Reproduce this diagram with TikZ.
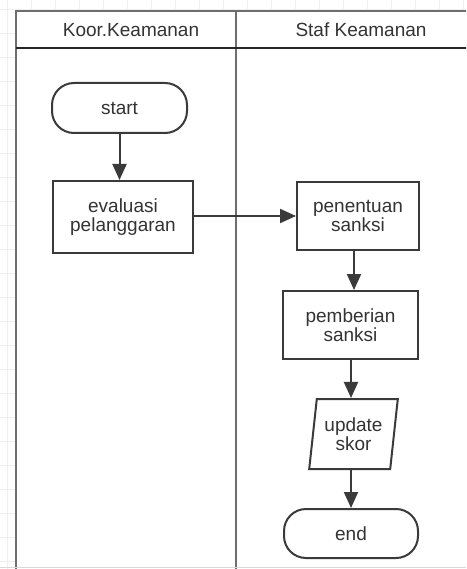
\documentclass[tikz,border=0pt]{standalone}
\usepackage{fontspec}
\setmainfont{Liberation Sans}
\usetikzlibrary{arrows.meta,shapes.geometric}
\definecolor{ink}{HTML}{3A3A3A}
\definecolor{txt}{HTML}{333333}
\definecolor{lane}{HTML}{6E6E6E}
\definecolor{gridc}{HTML}{EFEFEF}
\begin{document}
\begin{tikzpicture}[x=1pt,y=-1pt,
  every node/.style={font=\fontsize{19}{18.5}\selectfont, text=txt, align=center},
  box/.style={draw=ink, line width=2pt, fill=white, inner sep=0pt},
  term/.style={box, rounded corners=22pt},
  proc/.style={box},
  io/.style={box, trapezium, trapezium left angle=79.5, trapezium right angle=100.5,
    trapezium stretches=true},
  flow/.style={draw=ink, line width=2pt, -{Triangle[length=16pt,width=14pt]}},
  title/.style={font=\fontsize{19}{19}\selectfont}]
\useasboundingbox (0,0) rectangle (466,569);
\begin{scope}
\clip (0,0) rectangle (466,569);
% background grid
\fill[white] (0,0) rectangle (466,569);
\foreach \gy in {9.5,33.5,...,569} \draw[gridc, line width=0.8pt] (0,\gy) -- (466,\gy);
\foreach \gx in {7,31,...,466} \draw[gridc, line width=0.8pt] (\gx,0) -- (\gx,569);
% swimlane frame
\fill[white] (16,11) rectangle (490,580);
\draw[lane, line width=2.2pt] (16,580) -- (16,11) -- (490,11);
\draw[lane, line width=2.2pt] (236,11) -- (236,580);
\draw[black!85, line width=1.8pt] (16,48) -- (490,48);
\draw[black!15, line width=1pt] (0,567) -- (466,567);
\end{scope}
% lane titles
\node[title] (lane1) at (131,30) {Koor.Keamanan};
\node[title] (lane2) at (361,30) {Staf Keamanan};
% flow steps
\node[term, minimum width=135pt, minimum height=50pt] (start) at (119.5,108) {start};
\node[proc, minimum width=140pt, minimum height=72pt] (eval) at (123,217) {evaluasi\\pelanggaran};
\node[proc, minimum width=122pt, minimum height=68pt] (pen) at (358,216) {penentuan\\sanksi};
\node[proc, minimum width=135pt, minimum height=68pt] (pem) at (350.5,325) {pemberian\\sanksi};
\node[io, minimum width=89pt, minimum height=70pt] (upd) at (353.5,434) {update\\skor};
\node[term, minimum width=134pt, minimum height=49pt] (endn) at (351,533.5) {end};
% connectors
\draw[flow] (start.south) -- (start.south |- eval.north);
\draw[flow] (eval.east |- pen.west) -- (pen.west);
\draw[flow] ([xshift=-4pt]pen.south) -- ([xshift=-4pt]pen.south |- pem.north);
\draw[flow] (pem.south -| endn.north) -- (upd.north -| endn.north);
\draw[flow] (upd.south -| endn.north) -- (endn.north);
\end{tikzpicture}
\end{document}
